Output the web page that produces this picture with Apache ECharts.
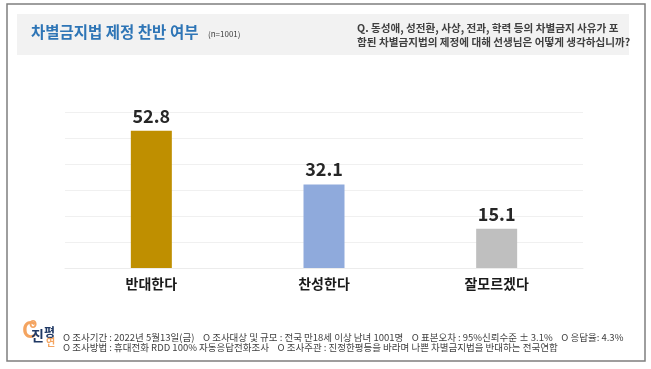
<!DOCTYPE html>
<html><head><meta charset="utf-8">
<script src="https://cdn.jsdelivr.net/npm/echarts@6/dist/echarts.min.js"></script>
<style>html,body{margin:0;padding:0;background:#fff}#c{width:651px;height:369px}</style>
</head><body><div id="c"></div>
<script>
const categories = ['반대한다', '찬성한다', '잘모르겠다'];
const values = [52.8, 32.1, 15.1];
const barColors = ['#BF8F00', '#8FAADC', '#BFBFBF'];
const yTicks = [0, 10, 20, 30, 40, 50, 60];
const titleText = '차별금지법 제정 찬반 여부';
const sampleText = '(n=1001)';
const questionLines = ['Q. 동성애, 성전환, 사상, 전과, 학력 등의 차별금지 사유가 포', '함된 차별금지법의 제정에 대해 선생님은 어떻게 생각하십니까?'];
const footerLines = ['O 조사기간 : 2022년 5월13일(금)    O 조사대상 및 규모 : 전국 만18세 이상 남녀 1001명    O 표본오차 : 95%신뢰수준 ± 3.1%    O 응답율: 4.3%',
                     'O 조사방법 : 휴대전화 RDD 100% 자동응답전화조사    O 조사주관 : 진정한평등을 바라며 나쁜 차별금지법을 반대하는 전국연합'];
const FONT = '"Noto Sans CJK KR", "Noto Sans", sans-serif';

const chart = echarts.init(document.getElementById('c'));
chart.setOption({
  animation: false,
  backgroundColor: '#fff',
  grid: { left: 65, right: 68, top: 112, bottom: 101 },
  xAxis: {
    type: 'category', data: categories,
    axisLine: { show: true, lineStyle: { color: '#ececec' } },
    axisTick: { show: false },
    axisLabel: { color: '#1a1a1a', fontSize: 14, fontWeight: 'bold', fontFamily: FONT, margin: 9 }
  },
  yAxis: {
    type: 'value', min: yTicks[0], max: yTicks[yTicks.length - 1], interval: 10,
    axisLabel: { show: false }, axisLine: { show: false }, axisTick: { show: false },
    splitLine: { lineStyle: { color: '#f0f0f0', width: 1 } }
  },
  series: [{
    type: 'bar', barWidth: 41,
    data: values.map((v, i) => ({ value: v, itemStyle: { color: barColors[i] } })),
    label: { show: true, position: 'top', distance: 6, color: '#262626', fontSize: 18, fontWeight: 'bold', fontFamily: FONT, formatter: p => p.value.toFixed(1) }
  }],
  graphic: [
    { type: 'rect', shape: { x: 7, y: 4, width: 638, height: 357 }, style: { fill: 'none', stroke: '#7f7f7f', lineWidth: 1.5 }, z: -1 },
    { type: 'rect', shape: { x: 17, y: 14, width: 612, height: 41 }, style: { fill: '#f2f2f2' }, z: -1 },
    { type: 'text', left: 31, top: 24, style: { text: titleText, fill: '#2E75B6', font: 'bold 15.5px ' + FONT } },
    { type: 'text', left: 208, top: 30, style: { text: sampleText, fill: '#404040', font: '8px ' + FONT } },
    { type: 'text', left: 357, top: 21, style: { text: questionLines.join('\n'), fill: '#404040', font: 'bold 10.6px ' + FONT, lineHeight: 14 } },
    { type: 'text', left: 63, top: 333, style: { text: footerLines.join('\n'), fill: '#404040', font: '9.5px ' + FONT, lineHeight: 9.7 } },
    { type: 'text', left: 22, top: 319, style: { text: 'C', fill: '#F4A460', font: 'bold 22px ' + FONT } },
    { type: 'text', left: 29, top: 317, style: { text: 'o', fill: '#F4A460', font: 'bold 13px ' + FONT } },
    { type: 'text', left: 31, top: 329, style: { text: '진', fill: '#1F3864', font: 'bold 14px ' + FONT } },
    { type: 'text', left: 44, top: 326, style: { text: '평', fill: '#1F3864', font: 'bold 12px ' + FONT } },
    { type: 'text', left: 46, top: 337, style: { text: '연', fill: '#F4A460', font: 'bold 10px ' + FONT } }
  ]
});
</script></body></html>
